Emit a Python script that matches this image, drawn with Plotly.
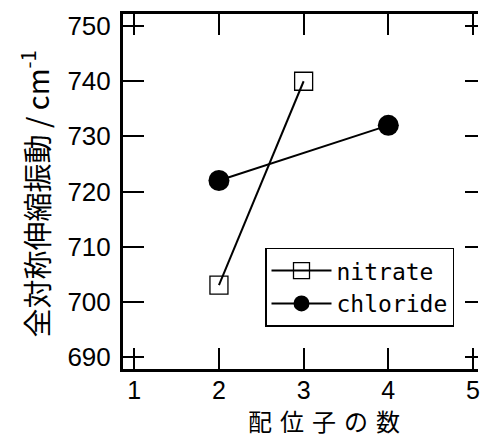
import plotly.graph_objects as go

# coordination number vs. symmetric stretching wavenumber
nitrate_x = [2, 3]
nitrate_y = [703, 740]
chloride_x = [2, 4]
chloride_y = [722, 732]

x_ticks = [1, 2, 3, 4, 5]
y_ticks = [690, 700, 710, 720, 730, 740, 750]

x_title = "\u2004".join("配位子の数")
y_title = "全対称伸縮振動 / cm<sup>-1</sup>"

num_font = dict(family="Liberation Sans, Arial, sans-serif", size=26, color="black")
xnum_font = dict(family="Liberation Sans, Arial, sans-serif", size=25, color="black")
mono_font = dict(family="DejaVu Sans Mono, Liberation Mono, monospace", size=23, color="black")
cjk_font = dict(family="Noto Sans CJK JP, sans-serif", size=24, color="black")
ytitle_font = dict(family="Noto Sans CJK JP, sans-serif", size=29, color="black")

fig = go.Figure()
fig.add_trace(go.Scatter(
    x=nitrate_x, y=nitrate_y, name="nitrate", mode="lines+markers",
    line=dict(color="black", width=2),
    marker=dict(symbol="square-open", size=18, color="black", line=dict(width=1.3)),
))
fig.add_trace(go.Scatter(
    x=chloride_x, y=chloride_y, name="chloride", mode="lines+markers",
    line=dict(color="black", width=2),
    marker=dict(symbol="circle", size=21, color="black"),
))
# invisible trace that carries the right-hand tick marks
fig.add_trace(go.Scatter(x=[None], y=[None], yaxis="y2", showlegend=False, hoverinfo="skip"))

fig.update_layout(
    width=480, height=439,
    margin=dict(l=123, r=0, t=14, b=70),
    paper_bgcolor="white", plot_bgcolor="white",
    showlegend=True,
    legend=dict(
        x=0.40, y=0.342, xanchor="left", yanchor="top",
        bgcolor="white", bordercolor="black", borderwidth=1.5,
        font=mono_font, itemwidth=60, tracegroupgap=0,
    ),
    xaxis=dict(
        range=[0.867, 5.059], tickvals=x_ticks, ticktext=[str(v) for v in x_ticks],
        ticks="inside", ticklen=21, tickwidth=2, tickcolor="black",
        showline=True, linewidth=3, linecolor="black", mirror="ticks",
        showgrid=False, zeroline=False, tickfont=xnum_font,
        ticklabeloverflow="allow", ticklabelstandoff=-3,
    ),
    yaxis=dict(
        range=[687.8, 752.2], tickvals=y_ticks, ticktext=[str(v) for v in y_ticks],
        ticks="inside", ticklen=21, tickwidth=2, tickcolor="black",
        showline=True, linewidth=3, linecolor="black",
        showgrid=False, zeroline=False, tickfont=num_font,
        ticklabelstandoff=4,
    ),
    yaxis2=dict(
        overlaying="y", side="right", anchor="free", position=1,
        range=[687.8, 752.2], tickvals=y_ticks, showticklabels=False,
        ticks="inside", ticklen=13, tickwidth=2, tickcolor="black",
        showline=False, showgrid=False, zeroline=False,
    ),
    annotations=[
        dict(
            text=x_title, xref="paper", yref="paper", x=0.566, y=0, yshift=-70,
            xanchor="center", yanchor="bottom", showarrow=False, font=cjk_font,
            borderpad=0,
        ),
        dict(
            text=y_title, xref="paper", yref="paper", x=0, y=0.5, xshift=-89, yshift=-3,
            xanchor="center", yanchor="middle", textangle=-90, showarrow=False,
            font=ytitle_font,
        ),
    ],
)

fig.write_html("out.html")
